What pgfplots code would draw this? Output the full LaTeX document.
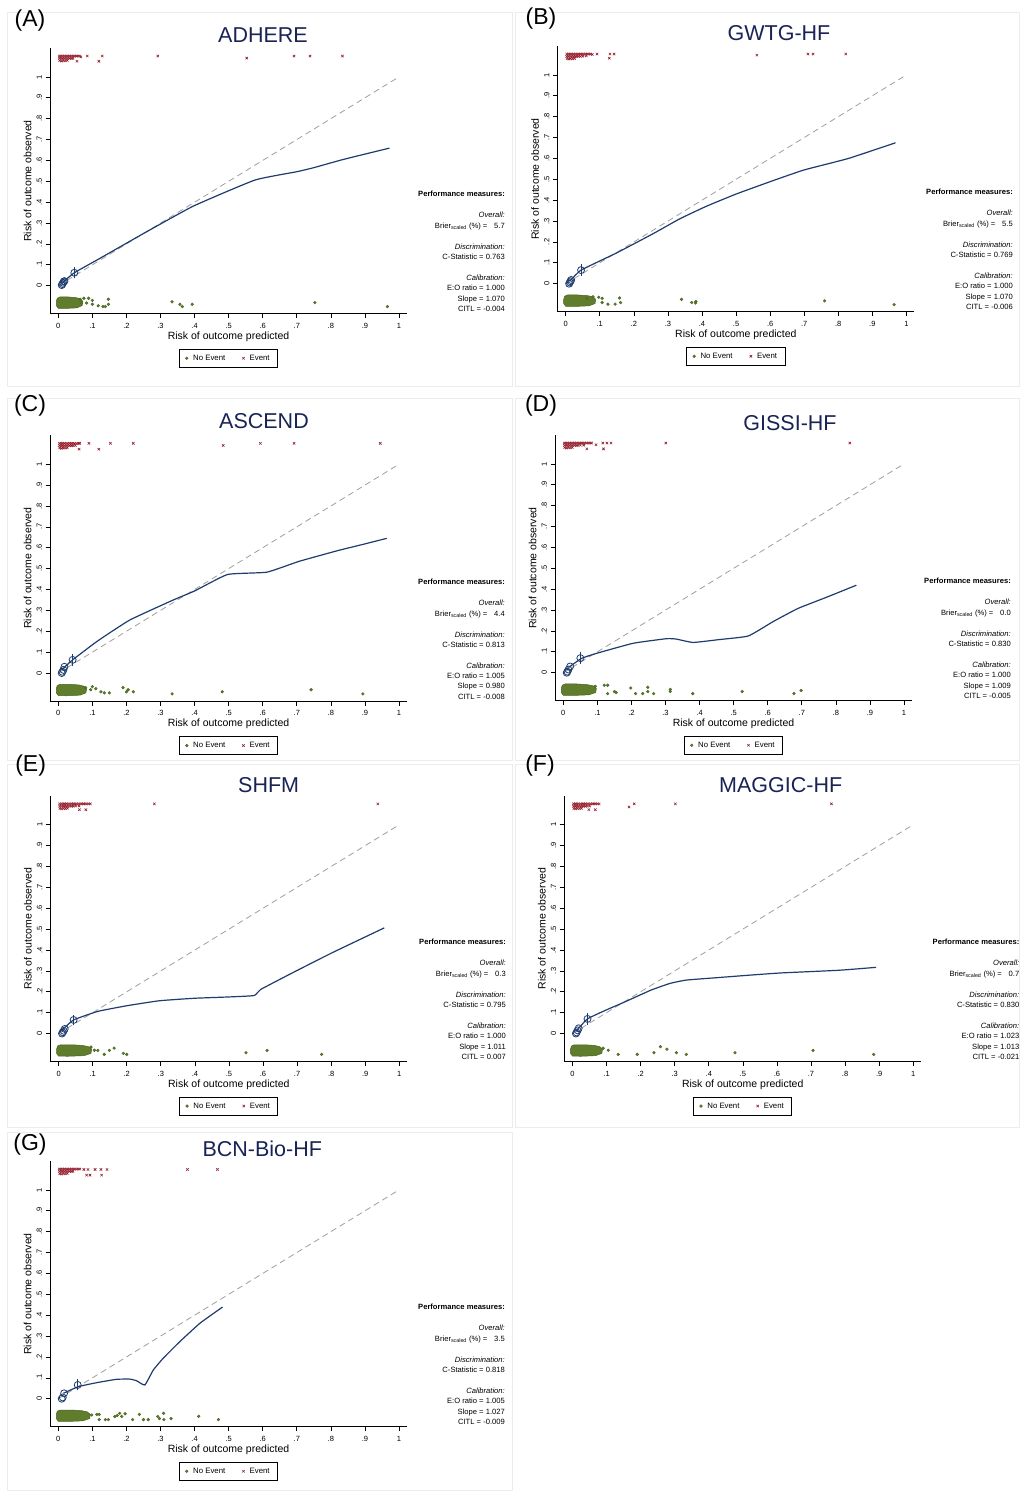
\documentclass[border=0pt]{standalone}
\usepackage{pgfplots}
\pgfplotsset{compat=1.18}
\usepackage{pgfplotstable}
\usepackage{fontspec}
\setmainfont{Liberation Sans}
\definecolor{navyc}{RGB}{30,60,110}
\definecolor{titlec}{RGB}{25,35,85}
\definecolor{evred}{RGB}{150,30,45}
\definecolor{ngreen}{RGB}{95,125,45}
\definecolor{ngreenD}{RGB}{72,100,30}

% shared dense cluster of events at low predicted risk
\pgfplotstableread{
x y
0.003 1.100
0.008 1.100
0.013 1.100
0.018 1.100
0.023 1.100
0.028 1.100
0.033 1.100
0.038 1.100
0.043 1.100
0.048 1.100
0.053 1.100
0.058 1.100
0.003 1.089
0.008 1.089
0.013 1.089
0.018 1.089
0.023 1.089
0.028 1.089
0.033 1.089
0.038 1.089
0.043 1.089
0.004 1.078
0.009 1.076
0.014 1.078
0.020 1.077
0.026 1.079
}\evclust

\pgfplotsset{
 calib/.style={
  scale only axis, width=357pt, height=266pt,
  anchor=south west,
  xmin=-0.0244, xmax=1.0235, ymin=-0.135, ymax=1.139,
  axis x line*=bottom, axis y line*=left,
  axis line style={-, black, line width=0.9pt},
  xtick={0,0.1,0.2,0.3,0.4,0.5,0.6,0.7,0.8,0.9,1},
  ytick={0,0.1,0.2,0.3,0.4,0.5,0.6,0.7,0.8,0.9,1},
  xticklabels={0,.1,.2,.3,.4,.5,.6,.7,.8,.9,1},
  yticklabels={0,.1,.2,.3,.4,.5,.6,.7,.8,.9,1},
  tick align=outside, major tick length=4.5pt,
  tick style={black, line width=0.7pt},
  /pgf/number format/assume math mode=true,
  ticklabel style={font=\fontsize{7.5}{8}\selectfont},
  xticklabel style={yshift=-1.5pt},
  yticklabel style={rotate=90, anchor=south},
  xlabel={Risk of outcome predicted}, ylabel={Risk of outcome observed},
  label style={font=\fontsize{10.5}{12}\selectfont},
  xlabel style={at={(axis description cs:0.5,-0.0865)}, anchor=center},
  ylabel style={at={(axis description cs:-0.0625,0.5)}, anchor=center},
  clip=false,
  legend columns=2,
  legend image code/.code={\draw[#1] plot coordinates {(0pt,0pt)};},
  legend style={at={(axis description cs:0.5,-0.1315)}, anchor=north, draw=black, line width=0.9pt,
     font=\fontsize{7.8}{9}\selectfont, inner xsep=6pt, inner ysep=3.5pt,
     /tikz/every odd column/.append style={column sep=3pt},
     /tikz/every even column/.append style={column sep=15pt}},
 },
 diag/.style={gray!75, line width=0.8pt, dash pattern=on 6pt off 4pt, forget plot},
 curve/.style={navyc, line width=1.2pt, smooth, tension=0.25, forget plot},
 grp/.style={only marks, mark=o, mark size=3.5pt, mark options={draw=navyc, line width=0.8pt}, forget plot},
 bar/.style={navyc, line width=0.7pt, forget plot},
 blob/.style={fill=ngreen, draw=ngreenD, line width=0.5pt, forget plot},
 ne/.style={only marks, mark=*, mark size=1.4pt, mark options={fill=ngreen, draw=ngreenD, line width=0.4pt}},
 ev/.style={only marks, mark=x, mark size=1.7pt, mark options={draw=evred, line width=0.6pt}},
 evf/.style={ev, forget plot},
}

\newcommand{\perf}[7]{%
\begin{scope}[shift={(#1pt,-#2pt)}, every node/.style={anchor=base east, inner sep=0pt, font=\fontsize{7.6}{9}\selectfont}]
\node at (0,89pt) {\textbf{Performance measures:}};
\node at (0,68pt) {\textit{Overall:}};
\node at (0,57pt) {Brier\textsubscript{scaled} (\%) =\hspace{0.9em}#3};
\node at (0,36pt) {\textit{Discrimination:}};
\node at (0,26pt) {C-Statistic = #4};
\node at (0,5pt) {\textit{Calibration:}};
\node at (0,-5pt) {E:O ratio = #5};
\node at (0,-15.5pt) {Slope = #6};
\node at (0,-26pt) {CITL = #7};
\end{scope}}

\begin{document}
\begin{tikzpicture}
\fill[white] (0,0) rectangle (1020pt,-1493pt);
\path[use as bounding box] (0,0) rectangle (1020pt,-1493pt);
% faint panel frames
\begin{scope}[gray!15, line width=0.8pt]
\draw (7pt,-12pt) rectangle (512pt,-386pt);
\draw (515pt,-12pt) rectangle (1019pt,-386pt);
\draw (7pt,-398pt) rectangle (512pt,-760pt);
\draw (515pt,-398pt) rectangle (1019pt,-760pt);
\draw (7pt,-764pt) rectangle (512pt,-1127pt);
\draw (515pt,-764pt) rectangle (1019pt,-1127pt);
\draw (7pt,-1132pt) rectangle (512pt,-1490pt);
\end{scope}

% ---------------- (A) ADHERE
\begin{axis}[calib, at={(50pt,-313.9pt)}]
\addplot[diag] coordinates {(0,0) (1,1)};
\addplot[blob] coordinates {(-0.006,-0.075) (-0.003,-0.06) (0.005,-0.054) (0.03,-0.054) (0.052,-0.057) (0.065,-0.063) (0.072,-0.075) (0.07,-0.095) (0.055,-0.106) (0.02,-0.109) (0,-0.108) (-0.006,-0.095)} -- cycle;
\addplot[ne] coordinates {(0.064,-0.065) (0.075,-0.06) (0.089,-0.06) (0.1,-0.07) (0.1,-0.089) (0.117,-0.096) (0.131,-0.1) (0.138,-0.1) (0.147,-0.065) (0.147,-0.089) (0.068,-0.083) (0.083,-0.083) (0.334,-0.077) (0.357,-0.089) (0.364,-0.1) (0.393,-0.089) (0.753,-0.081) (0.966,-0.1)};
\addlegendentry{No Event}
\addplot[ev] coordinates {(0.063,1.1) (0.066,1.096) (0.055,1.075) (0.085,1.1) (0.119,1.075) (0.129,1.1) (0.292,1.1) (0.553,1.09) (0.692,1.1) (0.739,1.1) (0.834,1.1)};
\addlegendentry{Event}
\addplot[evf] table {\evclust};
\addplot[curve] coordinates {(0.012,0.015) (0.047,0.062) (0.122,0.131) (0.25,0.25) (0.396,0.381) (0.577,0.506) (0.70,0.546) (0.749,0.565) (0.837,0.605) (0.972,0.659)};
\addplot[bar] coordinates {(0.047,0.035) (0.047,0.091)};
\addplot[grp] coordinates {(0.010,0.003) (0.012,0.008) (0.014,0.014) (0.016,0.02) (0.018,0.022) (0.047,0.062)};
\end{axis}
\node[font=\fontsize{23}{24}\selectfont] at (30pt,-21pt) {(A)};
\node[font=\fontsize{21.5}{22}\selectfont, text=titlec] at (263pt,-35pt) {ADHERE};
\perf{505}{285.7}{5.7}{0.763}{1.000}{1.070}{-0.004}

% ---------------- (B) GWTG-HF
\begin{axis}[calib, at={(557.4pt,-311.9pt)}]
\addplot[diag] coordinates {(0,0) (1,1)};
\addplot[blob] coordinates {(-0.006,-0.075) (-0.003,-0.06) (0.005,-0.054) (0.036,-0.054) (0.064,-0.057) (0.08,-0.063) (0.088,-0.075) (0.086,-0.095) (0.068,-0.106) (0.024,-0.109) (0,-0.108) (-0.006,-0.095)} -- cycle;
\addplot[ne] coordinates {(0.062,-0.07) (0.08,-0.063) (0.097,-0.065) (0.107,-0.07) (0.107,-0.09) (0.124,-0.098) (0.145,-0.098) (0.158,-0.068) (0.161,-0.09) (0.34,-0.075) (0.37,-0.09) (0.381,-0.092) (0.382,-0.085) (0.76,-0.082) (0.964,-0.1)};
\addlegendentry{No Event}
\addplot[ev] coordinates {(0.063,1.1) (0.068,1.1) (0.073,1.1) (0.078,1.098) (0.05,1.09) (0.06,1.092) (0.092,1.1) (0.13,1.1) (0.142,1.1) (0.128,1.08) (0.561,1.095) (0.711,1.1) (0.726,1.1) (0.822,1.1)};
\addlegendentry{Event}
\addplot[evf] table {\evclust};
\addplot[curve] coordinates {(0.013,0.014) (0.045,0.065) (0.15,0.148) (0.257,0.24) (0.335,0.311) (0.413,0.371) (0.501,0.43) (0.609,0.494) (0.70,0.545) (0.83,0.60) (0.968,0.675)};
\addplot[bar] coordinates {(0.045,0.038) (0.045,0.094)};
\addplot[grp] coordinates {(0.010,0.0) (0.012,0.006) (0.014,0.012) (0.016,0.018) (0.045,0.065)};
\end{axis}
\node[font=\fontsize{23}{24}\selectfont] at (541pt,-19pt) {(B)};
\node[font=\fontsize{21.5}{22}\selectfont, text=titlec] at (779pt,-33pt) {GWTG-HF};
\perf{1013}{283.7}{5.5}{0.769}{1.000}{1.070}{-0.006}

% ---------------- (C) ASCEND
\begin{axis}[calib, at={(50pt,-701.2pt)}]
\addplot[diag] coordinates {(0,0) (1,1)};
\addplot[blob] coordinates {(-0.006,-0.075) (-0.003,-0.06) (0.005,-0.054) (0.034,-0.054) (0.06,-0.057) (0.075,-0.063) (0.083,-0.075) (0.081,-0.095) (0.064,-0.106) (0.023,-0.109) (0,-0.108) (-0.006,-0.095)} -- cycle;
\addplot[ne] coordinates {(0.08,-0.07) (0.095,-0.08) (0.1,-0.065) (0.11,-0.075) (0.125,-0.09) (0.135,-0.095) (0.15,-0.095) (0.19,-0.07) (0.2,-0.09) (0.205,-0.08) (0.22,-0.09) (0.334,-0.1) (0.481,-0.09) (0.742,-0.08) (0.894,-0.1)};
\addlegendentry{No Event}
\addplot[ev] coordinates {(0.063,1.1) (0.05,1.09) (0.061,1.1) (0.09,1.1) (0.153,1.1) (0.22,1.1) (0.484,1.09) (0.593,1.1) (0.692,1.1) (0.945,1.1) (0.061,1.072) (0.119,1.072)};
\addlegendentry{Event}
\addplot[evf] table {\evclust};
\addplot[curve] coordinates {(0.013,0.02) (0.042,0.063) (0.115,0.153) (0.21,0.254) (0.335,0.348) (0.40,0.393) (0.497,0.472) (0.612,0.483) (0.707,0.535) (0.822,0.587) (0.899,0.618) (0.964,0.645)};
\addplot[bar] coordinates {(0.042,0.036) (0.042,0.09)};
\addplot[grp] coordinates {(0.010,0.0) (0.012,0.006) (0.015,0.015) (0.018,0.03) (0.042,0.063)};
\end{axis}
\node[font=\fontsize{23}{24}\selectfont] at (30pt,-406pt) {(C)};
\node[font=\fontsize{21.5}{22}\selectfont, text=titlec] at (264pt,-421pt) {ASCEND};
\perf{505}{673}{4.4}{0.813}{1.005}{0.980}{-0.008}

% ---------------- (D) GISSI-HF
\begin{axis}[calib, at={(555pt,-700.9pt)}]
\addplot[diag] coordinates {(0,0) (1,1)};
\addplot[blob] coordinates {(-0.006,-0.075) (-0.003,-0.06) (0.005,-0.054) (0.04,-0.054) (0.07,-0.057) (0.088,-0.063) (0.097,-0.075) (0.095,-0.095) (0.075,-0.106) (0.026,-0.109) (0,-0.108) (-0.006,-0.095)} -- cycle;
\addplot[ne] coordinates {(0.094,-0.065) (0.12,-0.06) (0.13,-0.06) (0.13,-0.1) (0.15,-0.09) (0.155,-0.095) (0.198,-0.073) (0.212,-0.1) (0.233,-0.1) (0.248,-0.07) (0.248,-0.09) (0.265,-0.1) (0.314,-0.08) (0.314,-0.09) (0.38,-0.1) (0.525,-0.09) (0.677,-0.1) (0.698,-0.085)};
\addlegendentry{No Event}
\addplot[ev] coordinates {(0.063,1.1) (0.068,1.1) (0.073,1.1) (0.078,1.1) (0.083,1.1) (0.05,1.09) (0.06,1.09) (0.096,1.092) (0.116,1.1) (0.128,1.1) (0.14,1.1) (0.069,1.072) (0.118,1.072) (0.301,1.1) (0.841,1.1)};
\addlegendentry{Event}
\addplot[evf] table {\evclust};
\addplot[curve] coordinates {(0.015,0.025) (0.054,0.069) (0.098,0.093) (0.205,0.141) (0.303,0.163) (0.332,0.161) (0.381,0.145) (0.459,0.159) (0.543,0.176) (0.616,0.245) (0.689,0.308) (0.772,0.361) (0.86,0.419)};
\addplot[bar] coordinates {(0.05,0.042) (0.05,0.1)};
\addplot[grp] coordinates {(0.010,0.0) (0.012,0.005) (0.015,0.015) (0.02,0.03) (0.05,0.07)};
\end{axis}
\node[font=\fontsize{23}{24}\selectfont] at (541pt,-406pt) {(D)};
\node[font=\fontsize{21.5}{22}\selectfont, text=titlec] at (790pt,-423pt) {GISSI-HF};
\perf{1011}{672.7}{0.0}{0.830}{1.000}{1.009}{-0.005}

% ---------------- (E) SHFM
\begin{axis}[calib, at={(50.3pt,-1061.7pt)}]
\addplot[diag] coordinates {(0,0) (1,1)};
\addplot[blob] coordinates {(-0.006,-0.075) (-0.003,-0.06) (0.005,-0.054) (0.04,-0.054) (0.07,-0.057) (0.088,-0.063) (0.097,-0.075) (0.095,-0.095) (0.075,-0.106) (0.026,-0.109) (0,-0.108) (-0.006,-0.095)} -- cycle;
\addplot[ne] coordinates {(0.095,-0.065) (0.105,-0.08) (0.115,-0.081) (0.134,-0.1) (0.149,-0.081) (0.163,-0.07) (0.19,-0.095) (0.2,-0.1) (0.55,-0.092) (0.612,-0.081) (0.772,-0.1)};
\addlegendentry{No Event}
\addplot[ev] coordinates {(0.063,1.1) (0.068,1.1) (0.073,1.1) (0.078,1.1) (0.083,1.1) (0.088,1.1) (0.093,1.1) (0.05,1.09) (0.06,1.09) (0.061,1.072) (0.08,1.072) (0.281,1.1) (0.937,1.1)};
\addlegendentry{Event}
\addplot[evf] table {\evclust};
\addplot[curve] coordinates {(0.01,0.016) (0.044,0.065) (0.115,0.106) (0.2,0.133) (0.296,0.157) (0.40,0.169) (0.497,0.175) (0.574,0.182) (0.593,0.211) (0.688,0.292) (0.803,0.387) (0.956,0.506)};
\addplot[bar] coordinates {(0.044,0.04) (0.044,0.09)};
\addplot[grp] coordinates {(0.010,0.0) (0.012,0.006) (0.015,0.013) (0.018,0.022) (0.044,0.065)};
\end{axis}
\node[font=\fontsize{23}{24}\selectfont] at (30.6pt,-766pt) {(E)};
\node[font=\fontsize{21.5}{22}\selectfont, text=titlec] at (268.7pt,-785pt) {SHFM};
\perf{506}{1033.5}{0.3}{0.795}{1.000}{1.011}{0.007}

% ---------------- (F) MAGGIC-HF
\begin{axis}[calib, at={(564.2pt,-1061.7pt)}]
\addplot[diag] coordinates {(0,0) (1,1)};
\addplot[blob] coordinates {(-0.006,-0.075) (-0.003,-0.06) (0.005,-0.054) (0.036,-0.054) (0.064,-0.057) (0.08,-0.063) (0.088,-0.075) (0.086,-0.095) (0.068,-0.106) (0.024,-0.109) (0,-0.108) (-0.006,-0.095)} -- cycle;
\addplot[ne] coordinates {(0.09,-0.07) (0.105,-0.08) (0.134,-0.1) (0.19,-0.1) (0.239,-0.092) (0.258,-0.063) (0.277,-0.075) (0.305,-0.092) (0.334,-0.1) (0.477,-0.092) (0.706,-0.081) (0.884,-0.1)};
\addlegendentry{No Event}
\addplot[ev] coordinates {(0.063,1.1) (0.068,1.1) (0.073,1.1) (0.078,1.1) (0.05,1.09) (0.048,1.072) (0.067,1.072) (0.166,1.085) (0.181,1.1) (0.302,1.1) (0.76,1.1)};
\addlegendentry{Event}
\addplot[evf] table {\evclust};
\addplot[curve] coordinates {(0.01,0.011) (0.044,0.07) (0.095,0.11) (0.153,0.151) (0.229,0.207) (0.286,0.24) (0.334,0.256) (0.42,0.267) (0.515,0.279) (0.61,0.29) (0.782,0.303) (0.891,0.317)};
\addplot[bar] coordinates {(0.044,0.042) (0.044,0.1)};
\addplot[grp] coordinates {(0.010,0.0) (0.012,0.005) (0.015,0.015) (0.018,0.025) (0.044,0.07)};
\end{axis}
\node[font=\fontsize{23}{24}\selectfont] at (540pt,-766pt) {(F)};
\node[font=\fontsize{21.5}{22}\selectfont, text=titlec] at (780.7pt,-785pt) {MAGGIC-HF};
\perf{1019.5}{1033.5}{0.7}{0.830}{1.023}{1.013}{-0.021}

% ---------------- (G) BCN-Bio-HF
\begin{axis}[calib, at={(50pt,-1426.9pt)}]
\addplot[diag] coordinates {(0,0) (1,1)};
\addplot[blob] coordinates {(-0.006,-0.075) (-0.003,-0.06) (0.005,-0.054) (0.038,-0.054) (0.068,-0.057) (0.085,-0.063) (0.094,-0.075) (0.092,-0.095) (0.072,-0.106) (0.026,-0.109) (0,-0.108) (-0.006,-0.095)} -- cycle;
\addplot[ne] coordinates {(0.098,-0.078) (0.113,-0.075) (0.12,-0.075) (0.12,-0.1) (0.138,-0.1) (0.147,-0.1) (0.166,-0.085) (0.173,-0.08) (0.18,-0.07) (0.186,-0.085) (0.196,-0.072) (0.218,-0.1) (0.238,-0.075) (0.25,-0.1) (0.264,-0.1) (0.292,-0.085) (0.297,-0.095) (0.309,-0.07) (0.31,-0.1) (0.331,-0.095) (0.412,-0.084) (0.47,-0.1)};
\addlegendentry{No Event}
\addplot[ev] coordinates {(0.063,1.1) (0.075,1.098) (0.087,1.098) (0.083,1.071) (0.093,1.071) (0.108,1.098) (0.125,1.098) (0.127,1.071) (0.143,1.098) (0.379,1.098) (0.467,1.098)};
\addlegendentry{Event}
\addplot[evf] table {\evclust};
\addplot[curve] coordinates {(0.015,0.026) (0.059,0.058) (0.113,0.077) (0.171,0.093) (0.21,0.094) (0.23,0.086) (0.254,0.066) (0.279,0.138) (0.308,0.194) (0.357,0.274) (0.416,0.362) (0.482,0.439)};
\addplot[bar] coordinates {(0.057,0.04) (0.057,0.093)};
\addplot[grp] coordinates {(0.010,0.0) (0.013,0.006) (0.017,0.026) (0.057,0.066)};
\end{axis}
\node[font=\fontsize{23}{24}\selectfont] at (30pt,-1145pt) {(G)};
\node[font=\fontsize{21.5}{22}\selectfont, text=titlec] at (262.3pt,-1149pt) {BCN-Bio-HF};
\perf{505}{1398.7}{3.5}{0.818}{1.005}{1.027}{-0.009}
\end{tikzpicture}
\end{document}
